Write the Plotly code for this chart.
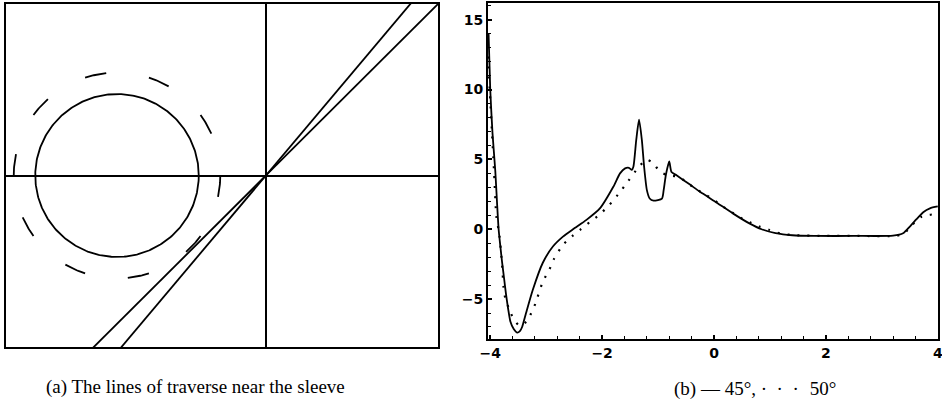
import numpy as np
import plotly.graph_objects as go

# ---------------- panel (a): lines of traverse near the sleeve ----------------
traverse_angles_deg = [45, 50]
sleeve_center_x = -1.73
sleeve_radius = 0.95
outer_radius = 1.2
outer_dash_start_deg = [24, 60, 96, 132, 168, 204, 240, 276, 312, 348]
outer_dash_len_deg = 12

# ---------------- panel (b): profiles along the traverse lines ----------------
x_45 = [-4.03, -4.00, -3.96, -3.91, -3.88, -3.85, -3.82, -3.79, -3.75, -3.72,
        -3.68, -3.64, -3.58, -3.52, -3.47, -3.43, -3.36, -3.24, -3.06, -2.88,
        -2.70, -2.52, -2.28, -2.04, -1.80, -1.68, -1.59, -1.52, -1.47, -1.44,
        -1.39, -1.34, -1.29, -1.25, -1.20, -1.15, -1.08, -0.93, -0.90, -0.86,
        -0.80, -0.76, -0.67, -0.45, -0.25, 0.05, 0.35, 0.64, 0.85, 1.10,
        1.40, 1.80, 2.50, 3.20, 3.38, 3.50, 3.62, 3.74, 3.86, 4.00]
y_45 = [14.0, 10.0, 6.9, 4.2, 2.0, 0.0, -1.2, -2.3, -3.6, -4.6,
        -5.7, -6.6, -7.15, -7.4, -7.3, -7.0, -6.0, -4.35, -2.4, -1.24,
        -0.53, 0.0, 0.67, 1.49, 3.04, 4.0, 4.36, 4.4, 4.25, 4.5,
        6.4, 7.85, 6.4, 4.5, 2.8, 2.2, 2.05, 2.2, 2.8, 3.9,
        4.85, 4.1, 3.86, 3.25, 2.68, 1.9, 1.1, 0.4, 0.0, -0.28,
        -0.43, -0.48, -0.48, -0.46, -0.29, 0.19, 0.72, 1.22, 1.5, 1.63]

x_50 = [-4.05, -3.93, -3.89, -3.84, -3.79, -3.75, -3.69, -3.63, -3.57, -3.49,
        -3.42, -3.36, -3.30, -3.21, -3.06, -2.94, -2.87, -2.70, -2.53, -2.38,
        -2.21, -2.05, -1.87, -1.72, -1.53, -1.36, -1.21, -1.09, -0.97, -0.85,
        -0.67, -0.53, -0.37, -0.19, -0.01, 0.14, 0.30, 0.46, 0.64, 0.81,
        0.99, 1.18, 1.45, 2.00, 2.60, 3.27, 3.40, 3.55, 3.71, 3.85, 4.00]
y_50 = [13.1, 4.0, 0.9, -0.3, -2.44, -4.6, -5.43, -6.03, -6.5, -6.87,
        -6.87, -6.63, -6.27, -5.5, -3.76, -2.87, -2.2, -1.12, -0.48, 0.0,
        0.55, 1.03, 1.75, 2.46, 3.47, 4.38, 4.98, 4.74, 4.14, 3.9,
        3.78, 3.5, 3.0, 2.56, 2.13, 1.68, 1.26, 0.86, 0.5, 0.2,
        -0.05, -0.3, -0.43, -0.48, -0.48, -0.47, -0.3, 0.35, 0.9, 1.03, 1.1]

x_ticks = [-4, -2, 0, 2, 4]
y_ticks = [-5, 0, 5, 10, 15]

W, H = 942, 406
INK = "black"

fig = go.Figure()

# sleeve circle
t = np.linspace(0, 2 * np.pi, 361)
fig.add_trace(go.Scatter(
    x=sleeve_center_x + sleeve_radius * np.cos(t),
    y=sleeve_radius * np.sin(t),
    mode="lines", line=dict(color=INK, width=1.8),
    xaxis="x", yaxis="y", hoverinfo="skip", showlegend=False))

# broken outer ring
ax, ay = [], []
for a0 in outer_dash_start_deg:
    th = np.radians(np.linspace(a0, a0 + outer_dash_len_deg, 13))
    ax += list(sleeve_center_x + outer_radius * np.cos(th)) + [None]
    ay += list(outer_radius * np.sin(th)) + [None]
fig.add_trace(go.Scatter(
    x=ax, y=ay, mode="lines", line=dict(color=INK, width=1.8),
    xaxis="x", yaxis="y", hoverinfo="skip", showlegend=False))

# traverse lines through the origin
for ang in traverse_angles_deg:
    s = np.tan(np.radians(ang))
    yy = np.array([-3.0, 3.0])
    fig.add_trace(go.Scatter(
        x=yy / s, y=yy, mode="lines", line=dict(color=INK, width=1.8),
        xaxis="x", yaxis="y", hoverinfo="skip", showlegend=False))

# profiles
fig.add_trace(go.Scatter(
    x=x_45, y=y_45, mode="lines",
    line=dict(color=INK, width=1.8, shape="spline", smoothing=0.6),
    xaxis="x2", yaxis="y2", hoverinfo="skip", showlegend=False))
fig.add_trace(go.Scatter(
    x=x_50, y=y_50, mode="lines",
    line=dict(color=INK, width=2.2, shape="spline", smoothing=0.6, dash="2px,8px"),
    xaxis="x2", yaxis="y2", hoverinfo="skip", showlegend=False))

tick_font = dict(family="DejaVu Sans", size=14, color=INK, weight="bold")
caption_font = dict(family="Liberation Serif", size=19, color=INK)


def minus(v):
    return str(v).replace("-", "\u2212")


fig.update_layout(
    width=W, height=H,
    margin=dict(l=0, r=0, t=0, b=0, autoexpand=False),
    paper_bgcolor="white", plot_bgcolor="white",
    xaxis=dict(domain=[6 / W, 438 / W], range=[-3.02, 2.0], automargin=False,
               showgrid=False, showticklabels=False, ticks="",
               zeroline=True, zerolinecolor=INK, zerolinewidth=1.8,
               showline=True, mirror=True, linecolor=INK, linewidth=2),
    yaxis=dict(domain=[1 - 347 / H, 1 - 4 / H], range=[-2.0, 2.0], automargin=False,
               showgrid=False, showticklabels=False, ticks="",
               zeroline=True, zerolinecolor=INK, zerolinewidth=1.8,
               showline=True, mirror=True, linecolor=INK, linewidth=2),
    xaxis2=dict(domain=[488 / W, 938 / W], range=[-4.04, 4.004], anchor="y2",
                automargin=False, showgrid=False, zeroline=False,
                tickvals=x_ticks, ticktext=[minus(v) for v in x_ticks],
                ticks="inside", ticklen=4, tickwidth=1.5, tickcolor=INK,
                minor=dict(dtick=0.4, tick0=0, ticks="inside", ticklen=3, tickcolor=INK, tickwidth=1),
                showline=True, mirror=True, linecolor=INK, linewidth=2,
                ticklabeloverflow="allow",
                tickfont=tick_font),
    yaxis2=dict(domain=[1 - 339 / H, 1 - 3 / H], range=[-7.86, 16.2], anchor="x2",
                automargin=False, showgrid=False, zeroline=False,
                tickvals=y_ticks, ticktext=[minus(v) for v in y_ticks],
                ticks="inside", ticklen=4, tickwidth=1.5, tickcolor=INK,
                minor=dict(dtick=1, tick0=0, ticks="inside", ticklen=3, tickcolor=INK, tickwidth=1),
                showline=True, mirror=True, linecolor=INK, linewidth=2,
                ticklabeloverflow="allow",
                tickfont=tick_font),
    annotations=[
        dict(text="(a) The lines of traverse near the sleeve",
             x=195 / W, y=1 - 387 / H, xref="paper", yref="paper",
             showarrow=False, xanchor="center", yanchor="middle",
             font=caption_font),
        dict(text="(b) \u2014 45\u00b0, \u00b7\u2002\u00b7\u2002\u00b7\u2002\u200a50\u00b0",
             x=755 / W, y=1 - 389 / H, xref="paper", yref="paper",
             showarrow=False, xanchor="center", yanchor="middle",
             font=caption_font),
    ],
)

fig.write_html("out.html")
